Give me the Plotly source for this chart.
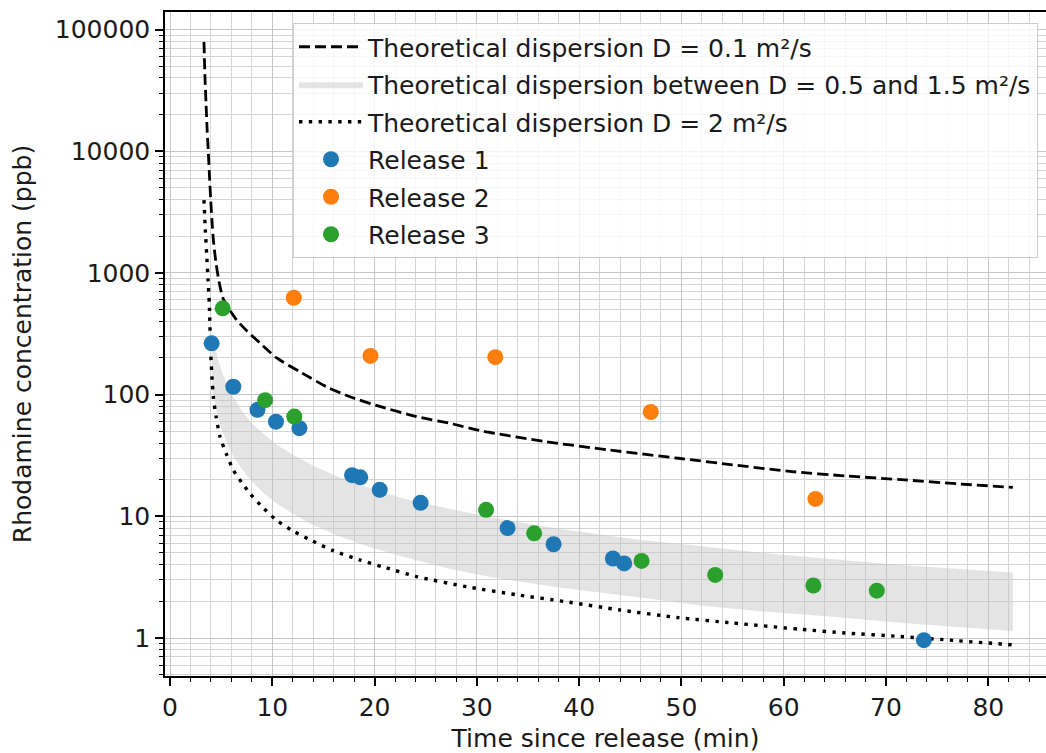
import plotly.graph_objects as go

r1_t = [4.07, 6.19, 8.55, 10.36, 12.65, 17.8, 18.6, 20.5, 24.5, 33.0, 37.5, 43.3, 44.4, 73.7]
r1_c = [264, 116, 75, 60, 53, 21.8, 20.9, 16.5, 12.9, 8.0, 5.9, 4.5, 4.1, 0.96]

r2_t = [12.1, 19.6, 31.8, 47.0, 63.1]
r2_c = [625, 208, 203, 72, 13.9]

r3_t = [5.15, 9.3, 12.15, 30.9, 35.6, 46.1, 53.3, 62.9, 69.1]
r3_c = [512, 90, 66, 11.3, 7.25, 4.3, 3.3, 2.7, 2.45]

# ---- theoretical curves ----
d01_t = [3.32, 3.42, 3.52, 3.63, 3.75, 3.87, 3.98, 4.1, 4.24, 4.5, 4.85, 5.21, 5.8, 6.52,
         7.5, 8.8, 10.43, 12.7, 15.3, 17.6, 20.5, 24.1, 27.4, 30.6, 36.8, 43, 49.7, 55,
         60.8, 66, 71.9, 77, 82.4]
d01_c = [79000, 40000, 24800, 15000, 9600, 6000, 3970, 2700, 1860, 1200, 800, 610, 500, 410,
         335, 265, 200, 154, 116, 96, 80, 66, 58, 50, 41, 35, 30, 26.5, 23.3, 21.5, 19.9,
         18.5, 17.3]

d2_t = [3.32, 3.45, 3.58, 3.72, 3.84, 3.98, 4.12, 4.24, 4.5, 4.89, 5.54, 6.19, 7.0, 7.82,
        9.0, 10.4, 12.0, 13.7, 16.0, 18.6, 21.0, 24.1, 29.0, 34.0, 38.5, 44, 49.7, 55,
        61.6, 66, 71.4, 77, 82.3]
d2_c = [3970, 2300, 1450, 880, 562, 218, 130, 95, 66, 45, 32, 24, 19, 15.4, 12, 9.3, 7.6,
        6.4, 5.2, 4.37, 3.8, 3.2, 2.64, 2.26, 2.0, 1.7, 1.47, 1.33, 1.18, 1.1, 1.03, 0.95, 0.88]

band_t = [4.1, 4.3, 4.6, 5.0, 5.5, 6.2, 7.0, 8.0, 9.2, 10.4, 12, 14, 16.5, 19.5, 23,
          27.4, 32, 38, 46, 51.8, 58, 64.5, 72, 82.4]
band_hi = [340, 275, 210, 160, 125, 95, 74, 58, 47, 39, 32, 26, 21, 17, 13.9, 11.5, 9.6,
           7.9, 6.4, 5.7, 5.0, 4.45, 3.95, 3.45]
band_lo = [114, 91, 70, 53.5, 41, 31, 24.6, 19.4, 15.4, 12.8, 10.5, 8.5, 6.9, 5.6, 4.6,
           3.7, 3.1, 2.6, 2.15, 1.85, 1.65, 1.5, 1.32, 1.14]

ytick_vals = [1, 10, 100, 1000, 10000, 100000]
ytick_text = ["1", "10", "100", "1000", "10000", "100000"]
xtick_vals = [0, 10, 20, 30, 40, 50, 60, 70, 80]

FONT = "DejaVu Sans"
FS = 25
TXT = "#1a1a1a"
GRID = "#c6c6c6"
GRID_MINOR = "#d4d4d4"

fig = go.Figure()

fig.add_trace(go.Scatter(
    x=d01_t, y=d01_c, mode="lines", line=dict(color="black", width=2.8, dash="11px,5px",
                                             shape="spline", smoothing=0.6),
    name="Theoretical dispersion D = 0.1 m²/s", legendgroup="a"))

fig.add_trace(go.Scatter(
    x=band_t + band_t[::-1], y=band_hi + band_lo[::-1], mode="lines", fill="toself",
    fillcolor="rgba(195,195,195,0.45)", line=dict(width=0, color="rgba(0,0,0,0)"),
    name="Theoretical dispersion between D = 0.5 and 1.5 m²/s", legendgroup="b"))

fig.add_trace(go.Scatter(
    x=d2_t, y=d2_c, mode="lines", line=dict(color="black", width=3.4, dash="3.4px,6.4px",
                                           shape="spline", smoothing=0.6),
    name="Theoretical dispersion D = 2 m²/s", legendgroup="c"))

for t, c, col, nm, g in [(r1_t, r1_c, "#1f77b4", "Release 1", "d"),
                         (r2_t, r2_c, "#ff7f0e", "Release 2", "e"),
                         (r3_t, r3_c, "#2ca02c", "Release 3", "f")]:
    fig.add_trace(go.Scatter(x=t, y=c, mode="markers", name=nm, legendgroup=g,
                             marker=dict(color=col, size=16, line=dict(width=0))))

fig.update_layout(
    width=1046, height=753,
    margin=dict(l=165, r=0, t=12, b=77, autoexpand=False),
    paper_bgcolor="white", plot_bgcolor="white",
    font=dict(family=FONT, size=FS, color=TXT),
    showlegend=True,
    legend=dict(x=(293 - 165) / 881, y=1 - (23 - 12) / 664, xanchor="left", yanchor="top",
                bgcolor="rgba(255,255,255,0.8)", bordercolor="#cccccc", borderwidth=1,
                font=dict(family=FONT, size=FS, color=TXT), itemwidth=64,
                tracegroupgap=2, traceorder="grouped"),
)

fig.update_xaxes(
    range=[-0.49, 85.64], tickvals=xtick_vals, showgrid=True, gridcolor=GRID, gridwidth=1,
    zeroline=False, showline=True, linecolor="black", linewidth=1.5, mirror=True,
    ticks="outside", ticklen=8, tickwidth=1.5, tickcolor="black", automargin=False,
    tickfont=dict(size=FS, family=FONT, color=TXT),
    minor=dict(dtick=2, ticks="outside", ticklen=4, tickwidth=1.2, tickcolor="black",
               showgrid=True, gridcolor=GRID_MINOR, gridwidth=1),
    title=dict(text="Time since release (min)", font=dict(size=FS, family=FONT, color=TXT),
               standoff=13),
)

fig.update_yaxes(
    type="log", range=[-0.312, 5.144], tickvals=ytick_vals, ticktext=ytick_text,
    showgrid=True, gridcolor=GRID, gridwidth=1, zeroline=False, automargin=False,
    showline=True, linecolor="black", linewidth=1.5, mirror=False,
    ticks="outside", ticklen=8, tickwidth=1.5, tickcolor="black",
    tickfont=dict(size=FS, family=FONT, color=TXT),
    minor=dict(dtick="D1", ticks="outside", ticklen=4, tickwidth=1.2, tickcolor="black",
               showgrid=True, gridcolor=GRID_MINOR, gridwidth=1),
    title=dict(text="Rhodamine concentration (ppb)", font=dict(size=FS, family=FONT, color=TXT),
               standoff=16),
)

fig.write_html("out.html", config={"displayModeBar": False},
               post_script="document.body.style.margin='0px';document.body.style.overflow='hidden';")
